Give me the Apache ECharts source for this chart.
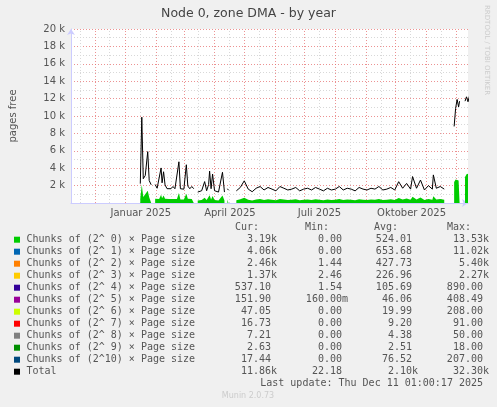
<!DOCTYPE html>
<html><head><meta charset="utf-8">
<script src="https://cdn.jsdelivr.net/npm/echarts@6/dist/echarts.min.js"></script>
<style>html,body{margin:0;padding:0;background:#f0f0f0}#c{width:497px;height:407px}</style>
</head><body><div id="c"></div>
<script>
// day offsets from 2025-01-01 (null rows = gaps)
const days = [15,16.5,18,20,22.5,24,26,28,
 30,32,34,36,37,38.5,40,42,44,46,48,50,52,54,55.5,57,59,61.5,63,65,67,69,71,
 73,75,77,79,80,82,84,85,86.5,88,90,92,94,96,98,100,101.5,
 103,104,106,
 112,116,120,124,128,132,136,140,144,148,152,156,160,164,168,172,176,180,184,188,192,196,200,204,208,212,216,220,224,228,232,236,240,244,248,252,256,260,264,268,272,276,280,284,288,290,294,298,302,306,310,311,314,318,322,326,
 332,333.5,335,336.5,337.5,339,
 343,344.5,346,347.5,349,350];
const chunk0 = [550,2100,700,800,1400,650,500,null,
 500,400,450,950,550,850,500,400,450,400,450,400,450,1150,400,450,400,1050,500,400,450,400,null,
 300,250,350,400,600,350,500,900,400,800,350,400,300,350,850,300,null,
 400,350,null,
 330,420,600,380,300,400,450,350,420,380, 330,450,400,350,380,420,330,380,400,350, 420,380,330,400,350,380,450,350,400,380, 330,420,380,350,400,380,450,350,380,420, 350,570,400,520,380,720,400,620,350,470,380,770,400,450,380,null,
 2400,2700,2900,2600,2800,null,
 3000,3300,3100,3400,3250,3190];
const chunk1 = [700,2900,900,1000,1900,800,650,null,
 700,550,600,1300,750,1150,650,500,550,500,600,500,550,1500,500,550,500,1400,600,500,600,500,null,
 400,350,450,500,800,450,700,1200,500,1100,450,500,400,450,1150,400,null,
 500,450,null,
 420,560,800,490,380,520,590,460,560,490, 420,590,520,460,490,560,420,490,520,460, 560,490,420,520,460,490,590,460,520,490, 420,560,490,460,520,490,590,460,490,560, 460,760,520,690,490,960,520,820,460,630,490,1020,520,590,490,null,
 3300,3500,3700,3400,3600,null,
 3700,3900,3700,4000,3900,4060];
const chunk2 = [500,2300,650,750,1400,600,500,null,
 500,400,450,950,550,850,500,400,450,400,450,400,400,1100,400,400,350,1050,450,400,450,400,null,
 300,250,350,400,550,350,500,800,400,750,350,350,300,350,800,300,null,
 400,350,null,
 350,450,620,400,320,430,480,380,450,400, 350,480,430,380,400,450,350,400,430,380, 450,400,350,430,380,400,480,380,430,400, 350,450,400,380,430,400,480,380,400,450, 380,600,430,550,400,760,430,650,380,500,400,810,430,480,400,null,
 2000,2800,3100,3000,3100,null,
 2800,2800,2700,2700,2600,2460];
const chunk3 = [250,1400,300,350,650,300,250,null,
 250,200,220,500,280,450,250,200,220,200,250,200,200,600,200,200,200,550,250,200,250,200,null,
 150,120,150,200,300,150,250,450,200,400,150,200,150,150,450,150,null,
 200,200,null,
 170,230,330,200,170,220,250,180,230,200, 170,250,220,180,200,230,170,200,220,180, 230,200,170,220,180,200,250,180,220,200, 170,230,200,180,220,200,250,180,200,230, 180,320,220,290,200,400,220,350,180,270,200,430,220,250,200,null,
 700,1200,1400,1300,1400,null,
 1400,1400,1350,1400,1380,1370];
const chunk4 = [90,500,100,110,250,90,80,null,
 70,60,60,150,80,130,70,60,60,55,60,55,60,180,55,60,55,160,60,55,60,55,null,
 40,35,45,55,90,45,70,140,55,120,45,55,40,45,130,40,null,
 55,50,null,
 45,45,80,45,45,45,45,45,45,45, 45,45,45,45,45,45,45,45,45,45, 45,45,45,45,45,45,45,45,45,45, 45,45,45,45,45,45,45,45,45,45, 45,80,45,80,45,80,45,80,45,45,45,80,45,45,45,null,
 250,450,550,500,550,null,
 550,550,540,550,540,537];
const chunk5 = [40,250,40,45,110,40,35,null,
 30,25,25,60,35,55,30,25,25,25,25,25,25,70,25,25,25,65,25,25,25,25,null,
 20,18,20,25,40,20,30,60,25,55,20,25,20,20,55,20,null,
 25,22,null,
 25,25,40,25,25,25,25,25,25,25, 25,25,25,25,25,25,25,25,25,25, 25,25,25,25,25,25,25,25,25,25, 25,25,25,25,25,25,25,25,25,25, 25,40,25,40,25,40,25,40,25,25,25,40,25,25,25,null,
 80,130,160,150,160,null,
 160,160,155,160,155,152];
const chunk6 = [15,120,15,15,40,15,12,null,
 12,10,10,20,12,18,12,10,10,10,10,10,10,25,10,10,10,22,10,10,10,10,null,
 8,8,8,10,15,8,12,20,10,18,8,10,8,8,18,8,null,
 10,9,null,
 10,10,15,10,10,10,10,10,10,10, 10,10,10,10,10,10,10,10,10,10, 10,10,10,10,10,10,10,10,10,10, 10,10,10,10,10,10,10,10,10,10, 10,15,10,15,10,15,10,15,10,10,10,15,10,10,10,null,
 30,40,50,45,50,null,
 50,50,48,50,48,47];
const chunk7 = [8,60,8,8,20,8,6,null,
 6,5,5,10,6,9,6,5,5,5,5,5,5,12,5,5,5,11,5,5,5,5,null,
 4,4,4,5,7,4,6,10,5,9,4,5,4,4,9,4,null,
 5,5,null,
 5,5,8,5,5,5,5,5,5,5, 5,5,5,5,5,5,5,5,5,5, 5,5,5,5,5,5,5,5,5,5, 5,5,5,5,5,5,5,5,5,5, 5,8,5,8,5,8,5,8,5,5,5,8,5,5,5,null,
 12,15,17,16,17,null,
 17,17,17,17,17,17];
const chunk8 = [6,40,6,6,10,6,5,null,
 5,4,4,6,5,6,5,4,4,4,4,4,4,7,4,4,4,7,4,4,4,4,null,
 3,3,3,4,5,3,5,6,4,6,3,4,3,3,6,3,null,
 4,4,null,
 4,4,5,4,4,4,4,4,4,4, 4,4,4,4,4,4,4,4,4,4, 4,4,4,4,4,4,4,4,4,4, 4,4,4,4,4,4,4,4,4,4, 4,5,4,5,4,5,4,5,4,4,4,5,4,4,4,null,
 6,7,7,7,7,null,
 7,7,7,7,7,7];
const chunk9 = [3,12,3,3,4,3,2,null,
 2,2,2,3,2,3,2,2,2,2,2,2,2,3,2,2,2,3,2,2,2,2,null,
 2,2,2,2,2,2,2,3,2,3,2,2,2,2,3,2,null,
 2,2,null,
 2,2,2,2,2,2,2,2,2,2, 2,2,2,2,2,2,2,2,2,2, 2,2,2,2,2,2,2,2,2,2, 2,2,2,2,2,2,2,2,2,2, 2,2,2,2,2,2,2,2,2,2,2,2,2,2,2,null,
 3,3,3,3,3,null,
 3,3,3,3,3,3];
const chunk10 = [60,180,70,70,120,60,50,null,
 50,40,40,80,50,70,50,40,40,40,40,40,40,90,40,40,40,80,40,40,40,40,null,
 30,30,30,40,50,30,40,70,40,60,30,40,30,30,60,30,null,
 40,35,null,
 35,35,50,35,35,35,35,35,35,35, 35,35,35,35,35,35,35,35,35,35, 35,35,35,35,35,35,35,35,35,35, 35,35,35,35,35,35,35,35,35,35, 35,50,35,50,35,50,35,50,35,35,35,50,35,35,35,null,
 20,20,18,18,18,null,
 18,18,18,18,18,17];

const seriesNames = ['Chunks of (2^ 0) × Page size','Chunks of (2^ 1) × Page size','Chunks of (2^ 2) × Page size','Chunks of (2^ 3) × Page size','Chunks of (2^ 4) × Page size','Chunks of (2^ 5) × Page size','Chunks of (2^ 6) × Page size','Chunks of (2^ 7) × Page size','Chunks of (2^ 8) × Page size','Chunks of (2^ 9) × Page size','Chunks of (2^10) × Page size','Total'];
const colors = ['#00CC00','#0066B3','#FF8000','#FFCC00','#330099','#990099','#CCFF00','#FF0000','#808080','#008F00','#00487D','#000000'];
const curV = ['3.19k','4.06k','2.46k','1.37k','537.10 ','151.90 ','47.05 ','16.73 ','7.21 ','2.63 ','17.44 ','11.86k'];
const minV = ['0.00 ','0.00 ','1.44 ','2.46 ','1.54 ','160.00m','0.00 ','0.00 ','0.00 ','0.00 ','0.00 ','22.18 '];
const avgV = ['524.01 ','653.68 ','427.73 ','226.96 ','105.69 ','46.06 ','19.99 ','9.20 ','4.38 ','2.51 ','76.52 ','2.10k'];
const maxV = ['13.53k','11.02k','5.40k','2.27k','890.00 ','408.49 ','208.00 ','91.00 ','50.00 ','18.00 ','207.00 ','32.30k'];
const xLabelDays = {'Januar 2025':15.5,'April 2025':105.5,'Juli 2025':196,'Oktober 2025':289};

const DAY = 864e5, T0 = Date.UTC(2025,0,1);
const xs = days.map(d => T0 + d*DAY);
const chunks = [chunk0,chunk1,chunk2,chunk3,chunk4,chunk5,chunk6,chunk7,chunk8,chunk9,chunk10];
const total = days.map((d,i) => chunk0[i]==null ? null : chunks.reduce((s,c)=>s+c[i],0));

const monthStarts = [Date.UTC(2024,11,1)]; for (let m=0;m<12;m++) monthStarts.push(Date.UTC(2025,m,1));
const midMonths = [Date.UTC(2024,10,16),Date.UTC(2024,11,16)]; for (let m=0;m<12;m++) midMonths.push(Date.UTC(2025,m,16));
const labelVals = Object.values(xLabelDays).map(d=>T0+d*DAY);
const labelNames = Object.keys(xLabelDays);

const xMin = Date.UTC(2024,10,7), xMax = Date.UTC(2025,11,13);
const PH = 174;
const series = chunks.map((c,k)=>({
  name: seriesNames[k], type:'line', stack:'s', symbol:'none', connectNulls:false,
  lineStyle:{width:0}, areaStyle:{color:colors[k],opacity:1}, itemStyle:{color:colors[k]},
  data: xs.map((x,i)=>[x,c[i]]), z:3
}));
series.push({name:'Total',type:'line',symbol:'none',connectNulls:false,lineStyle:{width:1,color:'#000'},data:xs.map((x,i)=>[x,total[i]]),z:4});

const graphic = [];
const F = '10px "DejaVu Sans Mono"';
const hdr = [['Cur:',247],['Min:',317],['Avg:',386],['Max:',459]];
hdr.forEach(h=>graphic.push({type:'text',style:{text:h[0],x:h[1],y:227,font:F,fill:'#555',align:'center',verticalAlign:'middle'}}));
seriesNames.forEach((n,i)=>{
  const y = 239.7 + i*12;
  graphic.push({type:'rect',shape:{x:14,y:y-3,width:6,height:6},style:{fill:colors[i]}});
  graphic.push({type:'text',style:{text:n,x:26.5,y:y,font:F,fill:'#555',verticalAlign:'middle'}});
  [[curV,277],[minV,348],[avgV,418],[maxV,489]].forEach(([arr,xr])=>{
    graphic.push({type:'text',style:{text:arr[i],x:xr,y:y,font:F,fill:'#555',align:'right',verticalAlign:'middle'}});
  });
});
graphic.push({type:'text',style:{text:'Last update: Thu Dec 11 01:00:17 2025',x:483,y:383.5,font:F,fill:'#555',align:'right',verticalAlign:'middle'}});
graphic.push({type:'text',style:{text:'Munin 2.0.73',x:248,y:396,font:'8px "DejaVu Sans"',fill:'#ccc',align:'center',verticalAlign:'middle'}});
graphic.push({type:'text',rotation:-Math.PI/2,x:487,y:5,style:{text:'RRDTOOL / TOBI OETIKER',x:0,y:0,font:'7px "DejaVu Sans"',fill:'#ccc',verticalAlign:'middle'}});

const chart = echarts.init(document.getElementById('c'),null,{renderer:'canvas'});
chart.setOption({
  animation:false,
  backgroundColor:'#f0f0f0',
  title:{text:'Node 0, zone DMA - by year',left:'center',top:2,textStyle:{fontFamily:'DejaVu Sans',fontSize:12.5,fontWeight:'normal',color:'#444'}},
  grid:{left:66,right:29,top:29,bottom:204,show:true,backgroundColor:'#fff',borderWidth:0},
  xAxis:[{
    type:'value',min:xMin,max:xMax,
    axisLine:{show:true,lineStyle:{color:'#ccccff'},symbol:['none','arrow'],symbolSize:[6,6]},
    splitLine:{show:false},
    axisTick:{show:true,inside:true,length:PH,customValues:monthStarts,lineStyle:{color:'rgba(230,110,110,0.75)',type:[1,2],width:1}},
    axisLabel:{customValues:labelVals,formatter:v=>labelNames[labelVals.indexOf(v)]||'',color:'#555',fontFamily:'DejaVu Sans',fontSize:10,margin:5}
  },{
    type:'value',min:xMin,max:xMax,position:'bottom',
    axisLine:{show:false},splitLine:{show:false},axisLabel:{show:false},
    axisTick:{show:true,inside:true,length:PH,customValues:midMonths,lineStyle:{color:'#d8d8d8',type:[1,2],width:1}}
  }],
  yAxis:{
    type:'value',min:0,max:20000,interval:2000,
    name:'pages free',nameLocation:'middle',nameGap:53,nameRotate:90,
    nameTextStyle:{color:'#555',fontFamily:'DejaVu Sans',fontSize:10},
    axisLine:{show:true,lineStyle:{color:'#ccccff'},symbol:['none','arrow'],symbolSize:[6,6]},
    axisTick:{show:false},
    axisLabel:{formatter:v=>v===0?'':(v/1000)+' k',color:'#555',fontFamily:'DejaVu Sans',fontSize:10,margin:6},
    splitLine:{show:true,lineStyle:{color:'rgba(230,110,110,0.75)',type:[1,2]}},
    minorTick:{show:false,splitNumber:2},
    minorSplitLine:{show:true,lineStyle:{color:'#d8d8d8',type:[1,2]}}
  },
  series:series,
  graphic:graphic
});
</script></body></html>
